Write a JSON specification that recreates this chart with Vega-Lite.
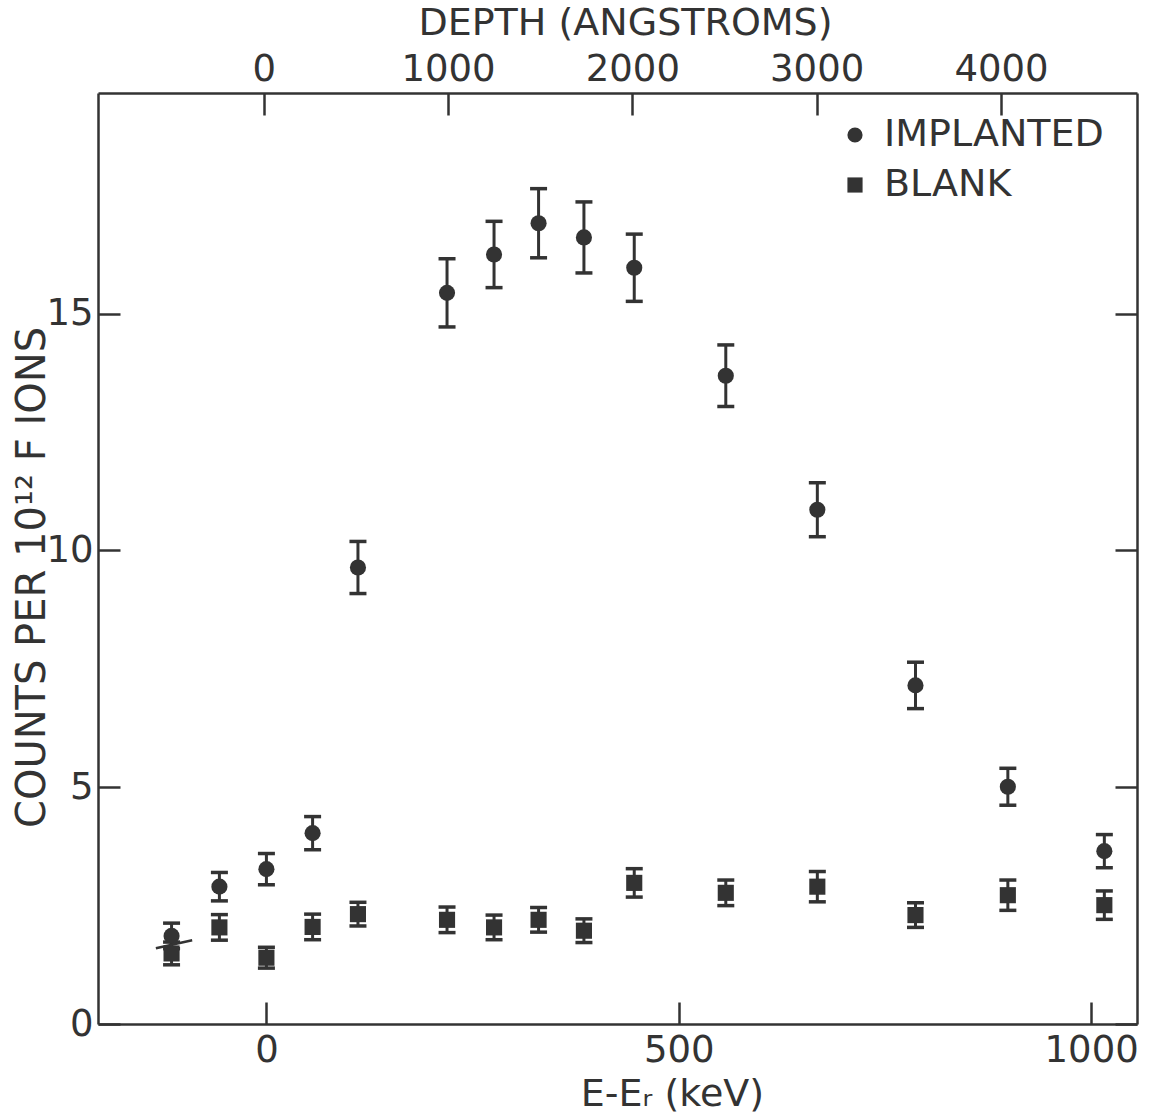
{
  "$schema": "https://vega.github.io/schema/vega-lite/v6.json",
  "width": 1039,
  "height": 931,
  "autosize": {"type": "none"},
  "padding": {"left": 98, "top": 93, "right": 16, "bottom": 96},
  "background": "white",
  "config": {
    "view": {"stroke": null},
    "font": "DejaVu Sans",
    "axis": {
      "domainColor": "#333", "domainWidth": 2.5,
      "tickColor": "#333", "tickWidth": 2.5, "tickSize": -22,
      "grid": false, "format": "d",
      "labelFont": "DejaVu Sans", "labelFontSize": 37, "labelColor": "#333",
      "titleFont": "DejaVu Sans", "titleFontSize": 38, "titleColor": "#333", "titleFontWeight": "normal",
      "labelFlush": false, "labelOverlap": false
    }
  },
  "datasets": {
    "main": [
      {"series": "IMPLANTED", "keV": -115, "counts": 1.86, "err": 0.27},
      {"series": "IMPLANTED", "keV": -57, "counts": 2.90, "err": 0.30},
      {"series": "IMPLANTED", "keV": 0, "counts": 3.27, "err": 0.33},
      {"series": "IMPLANTED", "keV": 56, "counts": 4.03, "err": 0.35},
      {"series": "IMPLANTED", "keV": 111, "counts": 9.64, "err": 0.55},
      {"series": "IMPLANTED", "keV": 219, "counts": 15.44, "err": 0.72},
      {"series": "IMPLANTED", "keV": 276, "counts": 16.25, "err": 0.70},
      {"series": "IMPLANTED", "keV": 330, "counts": 16.91, "err": 0.73},
      {"series": "IMPLANTED", "keV": 385, "counts": 16.61, "err": 0.75},
      {"series": "IMPLANTED", "keV": 446, "counts": 15.97, "err": 0.71},
      {"series": "IMPLANTED", "keV": 557, "counts": 13.69, "err": 0.65},
      {"series": "IMPLANTED", "keV": 668, "counts": 10.86, "err": 0.57},
      {"series": "IMPLANTED", "keV": 787, "counts": 7.15, "err": 0.49},
      {"series": "IMPLANTED", "keV": 899, "counts": 5.01, "err": 0.39},
      {"series": "IMPLANTED", "keV": 1016, "counts": 3.65, "err": 0.35},
      {"series": "BLANK", "keV": -115, "counts": 1.49, "err": 0.24},
      {"series": "BLANK", "keV": -57, "counts": 2.04, "err": 0.27},
      {"series": "BLANK", "keV": 0, "counts": 1.40, "err": 0.22},
      {"series": "BLANK", "keV": 56, "counts": 2.05, "err": 0.27},
      {"series": "BLANK", "keV": 111, "counts": 2.32, "err": 0.25},
      {"series": "BLANK", "keV": 219, "counts": 2.20, "err": 0.27},
      {"series": "BLANK", "keV": 276, "counts": 2.04, "err": 0.26},
      {"series": "BLANK", "keV": 330, "counts": 2.20, "err": 0.26},
      {"series": "BLANK", "keV": 385, "counts": 1.97, "err": 0.25},
      {"series": "BLANK", "keV": 446, "counts": 2.98, "err": 0.30},
      {"series": "BLANK", "keV": 557, "counts": 2.77, "err": 0.27},
      {"series": "BLANK", "keV": 668, "counts": 2.90, "err": 0.32},
      {"series": "BLANK", "keV": 787, "counts": 2.30, "err": 0.26},
      {"series": "BLANK", "keV": 899, "counts": 2.72, "err": 0.32},
      {"series": "BLANK", "keV": 1016, "counts": 2.51, "err": 0.30}
    ],
    "stroke": [
      {"keV": -134, "counts": 1.60},
      {"keV": -90, "counts": 1.77}
    ],
    "depthAxis": [
      {"depth": 0, "counts": 0}
    ]
  },
  "layer": [
    {
      "layer": [
        {
          "data": {"name": "main"},
          "mark": {
            "type": "errorbar",
            "ticks": {"size": 17, "thickness": 3.5, "color": "#333", "opacity": 1},
            "rule": {"strokeWidth": 3, "color": "#333", "opacity": 1}
          },
          "encoding": {
            "x": {
              "field": "keV", "type": "quantitative",
              "scale": {"domain": [-204.2, 1055.6], "nice": false, "zero": false},
              "axis": {
                "orient": "bottom", "values": [0, 500, 1000], "labelPadding": 30,
                "title": "E-Eᵣ (keV)", "titleFontSize": 38, "titleAlign": "center", "titleBaseline": "middle",
                "titleX": 574, "titleY": 70
              }
            },
            "y": {
              "field": "counts", "type": "quantitative",
              "scale": {"domain": [0, 19.66], "nice": false, "zero": false},
              "axis": {
                "orient": "left", "values": [0, 5, 10, 15], "labelPadding": 27,
                "title": "COUNTS PER 10¹² F IONS", "titleFontSize": 40, "titleAngle": 270,
                "titleAlign": "center", "titleBaseline": "middle",
                "titleX": -66, "titleY": 484
              }
            },
            "yError": {"field": "err"}
          }
        },
        {
          "data": {"name": "main"},
          "mark": {"type": "point", "filled": true, "opacity": 1, "color": "#333", "size": 260},
          "encoding": {
            "x": {"field": "keV", "type": "quantitative"},
            "y": {"field": "counts", "type": "quantitative"},
            "shape": {
              "field": "series", "type": "nominal",
              "scale": {"domain": ["IMPLANTED", "BLANK"], "range": ["circle", "square"]},
              "legend": {
                "title": null, "orient": "none", "legendX": 738, "legendY": 23,
                "labelFont": "DejaVu Sans", "labelFontSize": 38, "labelColor": "#333", "labelLimit": 500,
                "symbolSize": 230, "symbolFillColor": "#333", "symbolStrokeWidth": 0,
                "labelOffset": 10, "rowPadding": 12
              }
            }
          }
        },
        {
          "data": {"name": "stroke"},
          "mark": {"type": "line", "color": "#333", "strokeWidth": 2.5},
          "encoding": {
            "x": {"field": "keV", "type": "quantitative"},
            "y": {"field": "counts", "type": "quantitative"}
          }
        }
      ]
    },
    {
      "data": {"name": "depthAxis"},
      "mark": {"type": "point", "opacity": 0},
      "encoding": {
        "x": {
          "field": "depth", "type": "quantitative",
          "scale": {"domain": [-899, 4738], "nice": false, "zero": false},
          "axis": {
            "orient": "top", "values": [0, 1000, 2000, 3000, 4000], "labelPadding": 27,
            "title": "DEPTH (ANGSTROMS)", "titleAlign": "center", "titleBaseline": "middle",
            "titleX": 527, "titleY": -70
          }
        },
        "y": {
          "field": "counts", "type": "quantitative",
          "scale": {"domain": [0, 19.66], "nice": false, "zero": false},
          "axis": {"orient": "right", "values": [0, 5, 10, 15], "labels": false, "title": null}
        }
      }
    }
  ],
  "resolve": {"scale": {"x": "independent", "y": "independent"}}
}
